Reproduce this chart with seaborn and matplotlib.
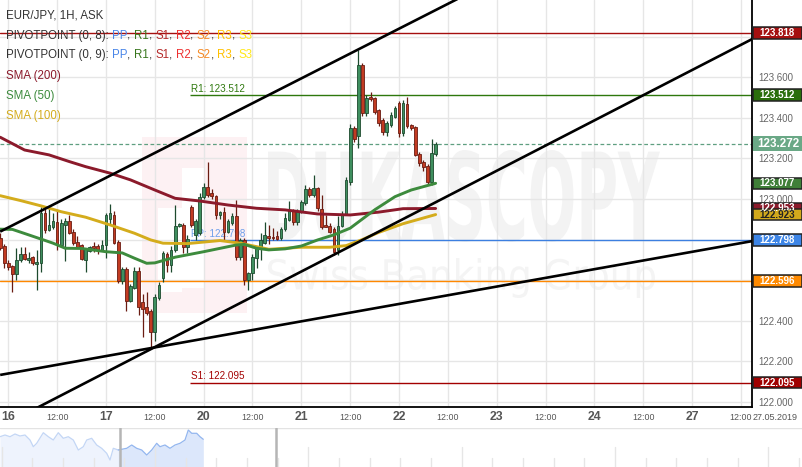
import numpy as np
import pandas as pd
import matplotlib
matplotlib.use("Agg")
import matplotlib.pyplot as plt
import seaborn as sns
from matplotlib.textpath import TextPath
from matplotlib.patches import PathPatch, Rectangle
from matplotlib.font_manager import FontProperties
from matplotlib.transforms import Affine2D, IdentityTransform, blended_transform_factory

# ---------------- data (EUR/JPY, 1H candles, 15.05 22:00 -> 22.05 09:00) ----------------
opens = [
    122.81, 122.77, 122.686, 122.67, 122.63, 122.70, 122.73, 122.70, 122.715, 122.68,
    122.685, 122.93, 122.845, 122.86, 122.885, 122.775, 122.87, 122.89, 122.835, 122.79,
    122.775, 122.70, 122.745, 122.77, 122.768, 122.75, 122.775, 122.90, 122.92, 122.79,
    122.595, 122.655, 122.495, 122.56, 122.645, 122.49, 122.47, 122.45, 122.346, 122.51,
    122.61, 122.73, 122.675, 122.75, 122.867, 122.872, 122.765, 122.962, 122.823, 122.83,
    123.008, 123.06, 123.028, 123.012, 122.92, 122.937, 122.839, 122.88, 122.916, 122.716,
    122.798, 122.60, 122.634, 122.71, 122.757, 122.785, 122.818, 122.814, 122.818, 122.81,
    122.85, 122.897, 122.943, 122.884, 122.934, 122.98, 123.048, 123.02, 123.052, 122.95,
    122.872, 122.867, 122.85, 122.749, 122.867, 122.926, 123.084, 123.348, 123.31, 123.66,
    123.422, 123.504, 123.496, 123.438, 123.389, 123.332, 123.364, 123.405, 123.471, 123.324,
    123.468, 123.365, 123.353, 123.222, 123.184, 123.163, 123.085, 123.222]
highs = [
    122.83, 122.78, 122.70, 122.675, 122.76, 122.765, 122.765, 122.74, 122.72, 122.75,
    122.96, 122.955, 122.955, 122.93, 122.945, 122.90, 122.905, 122.92, 122.85, 122.815,
    122.78, 122.76, 122.77, 122.79, 122.78, 122.80, 122.93, 122.975, 122.94, 122.80,
    122.665, 122.665, 122.58, 122.665, 122.665, 122.53, 122.54, 122.46, 122.53, 122.59,
    122.745, 122.74, 122.77, 122.97, 122.88, 122.88, 122.82, 122.97, 122.90, 123.03,
    123.077, 123.184, 123.05, 123.02, 122.94, 122.96, 122.90, 122.93, 122.995, 122.81,
    122.81, 122.64, 122.73, 122.77, 122.83, 122.887, 122.872, 122.855, 122.84, 122.86,
    122.93, 122.99, 122.95, 122.95, 122.995, 123.07, 123.06, 123.118, 123.06, 123.02,
    122.92, 122.88, 122.86, 122.915, 122.94, 123.11, 123.37, 123.36, 123.734, 123.67,
    123.51, 123.528, 123.50, 123.445, 123.40, 123.385, 123.43, 123.46, 123.48, 123.488,
    123.504, 123.37, 123.36, 123.23, 123.19, 123.17, 123.296, 123.282]
lows = [
    122.75, 122.66, 122.65, 122.54, 122.60, 122.69, 122.70, 122.685, 122.675, 122.55,
    122.64, 122.83, 122.84, 122.85, 122.75, 122.77, 122.695, 122.825, 122.775, 122.76,
    122.70, 122.64, 122.74, 122.74, 122.73, 122.745, 122.71, 122.87, 122.78, 122.585,
    122.58, 122.45, 122.49, 122.555, 122.43, 122.32, 122.43, 122.27, 122.30, 122.50,
    122.59, 122.64, 122.64, 122.74, 122.86, 122.735, 122.735, 122.86, 122.80, 122.82,
    123.00, 123.01, 123.00, 122.90, 122.90, 122.80, 122.83, 122.87, 122.70, 122.70,
    122.576, 122.55, 122.60, 122.66, 122.70, 122.78, 122.78, 122.80, 122.80, 122.80,
    122.84, 122.89, 122.87, 122.87, 122.93, 122.97, 123.01, 123.01, 122.94, 122.85,
    122.86, 122.83, 122.724, 122.724, 122.86, 122.92, 123.07, 123.28, 123.25, 123.41,
    123.41, 123.48, 123.42, 123.36, 123.315, 123.31, 123.355, 123.40, 123.304, 123.31,
    123.35, 123.34, 123.21, 123.16, 123.14, 123.07, 123.07, 123.21]
closes = [
    122.76, 122.685, 122.663, 122.63, 122.70, 122.73, 122.705, 122.71, 122.685, 122.69,
    122.93, 122.845, 122.87, 122.89, 122.775, 122.88, 122.89, 122.83, 122.785, 122.765,
    122.705, 122.755, 122.762, 122.757, 122.75, 122.775, 122.92, 122.93, 122.785, 122.595,
    122.655, 122.495, 122.57, 122.645, 122.47, 122.46, 122.44, 122.345, 122.517, 122.576,
    122.735, 122.675, 122.75, 122.865, 122.877, 122.765, 122.805, 122.872, 122.893, 123.008,
    123.058, 123.02, 123.012, 122.92, 122.937, 122.839, 122.893, 122.916, 122.716, 122.798,
    122.60, 122.634, 122.716, 122.76, 122.798, 122.823, 122.806, 122.806, 122.805, 122.85,
    122.905, 122.946, 122.884, 122.943, 122.983, 123.048, 123.02, 123.052, 122.954, 122.86,
    122.864, 122.839, 122.74, 122.867, 122.926, 123.094, 123.347, 123.294, 123.66, 123.422,
    123.496, 123.49, 123.43, 123.376, 123.332, 123.376, 123.414, 123.447, 123.324, 123.471,
    123.36, 123.348, 123.217, 123.179, 123.156, 123.085, 123.225, 123.271]

sma200_hours = [0, 6, 12, 17, 21, 27, 32, 38, 43, 49, 56, 63, 70, 78, 86, 93, 99, 107]
sma200_values = [123.304, 123.241, 123.217, 123.184, 123.159, 123.127, 123.094, 123.044,
                 123.003, 122.990, 122.970, 122.954, 122.946, 122.926, 122.921, 122.935,
                 122.952, 122.953]
sma100_hours = [0, 5, 10, 15, 21, 27, 33, 37, 40, 46, 54, 59, 63, 66, 74, 81, 85, 89, 93, 99, 107]
sma100_values = [123.016, 122.992, 122.966, 122.937, 122.910, 122.872, 122.831, 122.798,
                 122.782, 122.780, 122.795, 122.782, 122.765, 122.752, 122.762, 122.762,
                 122.770, 122.800, 122.835, 122.878, 122.923]
sma50_hours = [0, 3, 7, 13, 16, 20, 26, 30, 33, 36, 38, 43, 50, 58, 60, 63, 66, 70, 74, 78,
               82, 86, 92, 97, 101, 107]
sma50_values = [122.851, 122.850, 122.823, 122.782, 122.757, 122.756, 122.740, 122.734,
                122.708, 122.683, 122.685, 122.713, 122.740, 122.773, 122.776, 122.757,
                122.749, 122.754, 122.768, 122.798, 122.823, 122.856, 122.946, 123.011,
                123.044, 123.077]

weekly_levels = [123.818, 122.596]
weekly_colors = ["#a50f0f", "#ff8800"]
daily_names = ["R1", "PP", "S1"]
daily_levels = [123.512, 122.798, 122.095]
daily_colors = ["#2e780d", "#3c7fe0", "#a30000"]
daily_label_colors = ["#2e780d", "#6d9eeb", "#a30000"]
daily_start_hour = 46.6
last_price = 123.272

trend_starts = [(0, 122.839), (8, 121.960), (0, 122.133)]
trend_ends = [(120, 124.063), (185, 123.790), (185, 122.793)]

tag_values = [123.818, 123.512, 123.272, 123.077, 122.953, 122.923, 122.798, 122.596, 122.095]
tag_colors = ["#a50f0f", "#2a6e0b", "#6aa886", "#3f7f38", "#8b1a2b", "#d2a91c",
              "#3d85e6", "#ff8a00", "#a00000"]
tag_text_colors = ["white", "white", "white", "white", "white", "#222222",
                   "white", "white", "white"]

tick_hours = [2, 14, 26, 38, 50, 62, 74, 86, 98, 110, 122, 134, 146, 158, 170, 182]
tick_labels = ["16", "12:00", "17", "12:00", "20", "12:00", "21", "12:00",
               "22", "12:00", "23", "12:00", "24", "12:00", "27", "12:00"]
ytick_values = [122.0, 122.2, 122.4, 122.6, 122.8, 123.0, 123.2, 123.4, 123.6, 123.8]
ytick_labels = ["122.000", "122.200", "122.400", "", "", "123.000", "123.200",
                "123.400", "123.600", ""]

nav_x = [0, 5, 10, 15, 20, 25, 30, 33.3, 36.7, 43.3, 48.3, 53.3, 58.3, 63.3, 68.3, 73.3,
         78.3, 83.3, 86.7, 91.7, 96.7, 101.7, 106.7, 110, 113.3, 118.3, 121.7, 126.7,
         131.7, 136.7, 141.7, 146.7, 151.7, 156.7, 160, 165, 170, 175, 180, 185, 188.3,
         191.7, 196.7, 200, 203.3]
nav_h = [30.3, 32, 30.3, 33, 31, 32, 27, 20.3, 23.7, 34.3, 30.3, 27, 34.3, 28.7, 30.3, 27,
         17, 20.3, 27, 28.7, 22, 18.7, 13.7, 7, 18.7, 17, 17.7, 18.7, 22, 18.7, 17, 12, 17,
         23.7, 20.3, 22, 18.7, 22, 23.7, 27, 37, 33.7, 33.7, 30.3, 27.7]

# ---------------- figure ----------------
W, H = 803, 467
sns.set_theme(style="white")
plt.rcParams["font.family"] = ["Liberation Sans", "DejaVu Sans"]

fig = plt.figure(figsize=(W / 100, H / 100), dpi=100, facecolor="white")
ax = fig.add_axes([0, (H - 407) / H, 752 / W, 407 / H])
ax.set_xlim(-0.04, 184.73)
ax.set_ylim(121.975, 123.980)
ax.set_facecolor("white")

# watermark
def stretched_text(txt, x0, y0, x1, y1, color, weight="bold"):
    fp = FontProperties(family="DejaVu Sans", weight=weight)
    tp = TextPath((0, 0), txt, size=50, prop=fp)
    bb = tp.get_extents()
    sx = (x1 - x0) / bb.width
    sy = (y1 - y0) / bb.height
    tr = Affine2D().translate(-bb.x0, -bb.y0).scale(sx, sy).translate(x0, H - y1)
    p = PathPatch(tp, fc=color, ec="none", transform=tr, zorder=0.3)
    ax.add_artist(p)

for (x0, y0, x1, y1, c) in [(142, 137, 247, 313, "#fdf1f3"),
                            (182, 168, 205, 288, "white"),
                            (158, 208, 182, 292, "white")]:
    ax.add_artist(Rectangle((x0, H - y1), x1 - x0, y1 - y0, transform=IdentityTransform(),
                            fc=c, ec="none", zorder=0.3))
stretched_text("DUKASCOPY", 268, 150, 660, 242, "#f3f3f3")
stretched_text("Swiss Banking Group", 268, 258, 655, 298, "#f4f4f4", weight="normal")

# grid / axes style
ax.set_axisbelow(True)
ax.grid(True, color="#e6e6e6", linewidth=1.0)
for s in ["left", "top"]:
    ax.spines[s].set_visible(False)
for s in ["right", "bottom"]:
    ax.spines[s].set_color("black")
    ax.spines[s].set_linewidth(1.3)

ax.set_xticks(tick_hours, tick_labels)
ax.yaxis.tick_right()
ax.set_yticks(ytick_values, ytick_labels)
ax.tick_params(axis="x", length=0, pad=7.2)
ax.tick_params(axis="y", length=0, pad=4.3, labelsize=7, labelcolor="#666666")
for lbl in ax.get_xticklabels():
    lbl.set_va("center")
    lbl.set_color("#555555")
    if ":" in lbl.get_text():
        lbl.set_fontsize(6.4)
    else:
        lbl.set_fontsize(8.8)
        lbl.set_fontweight("bold")

# pivot lines
for lv, c in zip(weekly_levels, weekly_colors):
    ax.axhline(lv, color=c, lw=1.0, zorder=1.5)
for nm, lv, c, lc in zip(daily_names, daily_levels, daily_colors, daily_label_colors):
    ax.hlines(lv, daily_start_hour, 200, color=c, lw=1.0, zorder=1.5)
    ax.text(daily_start_hour + 0.4, lv + 0.007, f"{nm}: {lv:.3f}", color=lc,
            fontsize=7.1, va="bottom", ha="left", zorder=1.6)
ax.axhline(last_price, color="#5f9f80", lw=0.9, ls=(0, (3, 2)), zorder=1.5)

# candles
n = min(len(opens), len(highs), len(lows), len(closes))
df = pd.DataFrame({"hour": np.arange(n), "open": opens[:n], "high": highs[:n],
                   "low": lows[:n], "close": closes[:n]})
up = df["close"] >= df["open"]
face = np.where(up, "#3f8f5f", "#c23b22")
edge = np.where(up, "#1d4a2e", "#6a1c12")
ax.vlines(df["hour"], df["low"], df["high"], colors=edge, lw=0.9, zorder=2)
body_low = np.minimum(df["open"], df["close"])
body_h = np.maximum(np.abs(df["close"] - df["open"]), 0.004)
ax.bar(df["hour"], body_h, bottom=body_low, width=0.66, color=face, edgecolor=edge,
       linewidth=0.6, zorder=2.1)

# moving averages
sns.lineplot(x=sma200_hours, y=sma200_values, ax=ax, color="#8b1a2b", lw=2.1, zorder=3)
sns.lineplot(x=sma100_hours, y=sma100_values, ax=ax, color="#d4ac1c", lw=2.1, zorder=3)
sns.lineplot(x=sma50_hours, y=sma50_values, ax=ax, color="#3d8b3d", lw=2.1, zorder=3)

# trend lines
for (x0, y0), (x1, y1) in zip(trend_starts, trend_ends):
    ax.plot([x0, x1], [y0, y1], color="black", lw=1.9, zorder=4, solid_capstyle="butt")

ax.set_xlim(-0.04, 184.73)
ax.set_ylim(121.975, 123.980)
ax.set_xlabel("")
ax.set_ylabel("")

# price tags on right
bt = blended_transform_factory(ax.transAxes, ax.transData)
for v, c, tc in zip(tag_values, tag_colors, tag_text_colors):
    big = abs(v - last_price) < 1e-9
    hh = (14.5 if big else 11.5) / 203.0
    wx = (51 if big else 49.5) / 752.0
    ax.add_patch(Rectangle((1.0009, v - hh / 2), wx, hh, transform=bt, clip_on=False,
                           fc=c, ec="none" if big else "#222222", lw=1.1, zorder=10))
    ax.text(1.0009 + wx / 2, v, f"{v:.3f}", transform=bt, ha="center", va="center",
            color=tc, fontsize=8.4 if big else 7, fontweight="bold", clip_on=False,
            zorder=11)

fig.text(775 / W, 1 - 417 / H, "27.05.2019", ha="center", va="center",
         fontsize=6.5, color="#555555")

# legend (multi-coloured)
renderer = fig.canvas.get_renderer()
piv_cols = [("PP", "#4a86e8"), ("R1", "#38761d"), ("S1", "#b52a2a"), ("R2", "#ee3030"),
            ("S2", "#f58a25"), ("R3", "#ffc000"), ("S3", "#ffe81a")]
def piv_line(p):
    parts = [(f"PIVOTPOINT (0, {p}): ", "#333333")]
    for i, (nm, c) in enumerate(piv_cols):
        parts.append((nm, c))
        if i < len(piv_cols) - 1:
            parts.append((", ", "#333333"))
    return parts
legend_rows = [(15.7, [("EUR/JPY, 1H, ASK", "#333333")]),
               (35.7, piv_line(8)),
               (55.3, piv_line(9)),
               (76.0, [("SMA (200)", "#8b1a2b")]),
               (96.5, [("SMA (50)", "#3d8b3d")]),
               (115.7, [("SMA (100)", "#d4ac1c")])]
for ypx, parts in legend_rows:
    xpx = 6.0
    for txt, col in parts:
        t = fig.text(xpx / W, 1 - ypx / H, txt, color=col, fontsize=8.3,
                     ha="left", va="center", zorder=20)
        bb = t.get_window_extent(renderer)
        xpx += bb.width

# navigator
nav = fig.add_axes([0, 0, 1, 39 / H])
nav.set_xlim(0, W)
nav.set_ylim(0, 39)
nav.axis("off")
nx = np.array(nav_x)
nh = np.array(nav_h)
left = nx <= 121.7
right = nx >= 118.3
nav.fill_between(nx[left], 0, nh[left], color="#eef3fd", lw=0)
nav.plot(nx[left], nh[left], color="#c3d6f5", lw=0.9)
nav.fill_between(nx[right], 0, nh[right], color="#dce7fb", lw=0)
nav.plot(nx[right], nh[right], color="#93b6ef", lw=0.9)
for k in range(27):
    xk = 1.7 + 30.66 * k
    top = 20 if k % 5 == 0 else 9
    nav.plot([xk, xk], [0, top], color="#e6e6e6", lw=1)
nav.axhline(38.6, color="#e3e3e3", lw=1)
for xk in [120, 276]:
    nav.plot([xk, xk], [0, 39], color="#b5b5b5", lw=1.8)

fig.savefig("out.png", dpi=100, facecolor="white")
